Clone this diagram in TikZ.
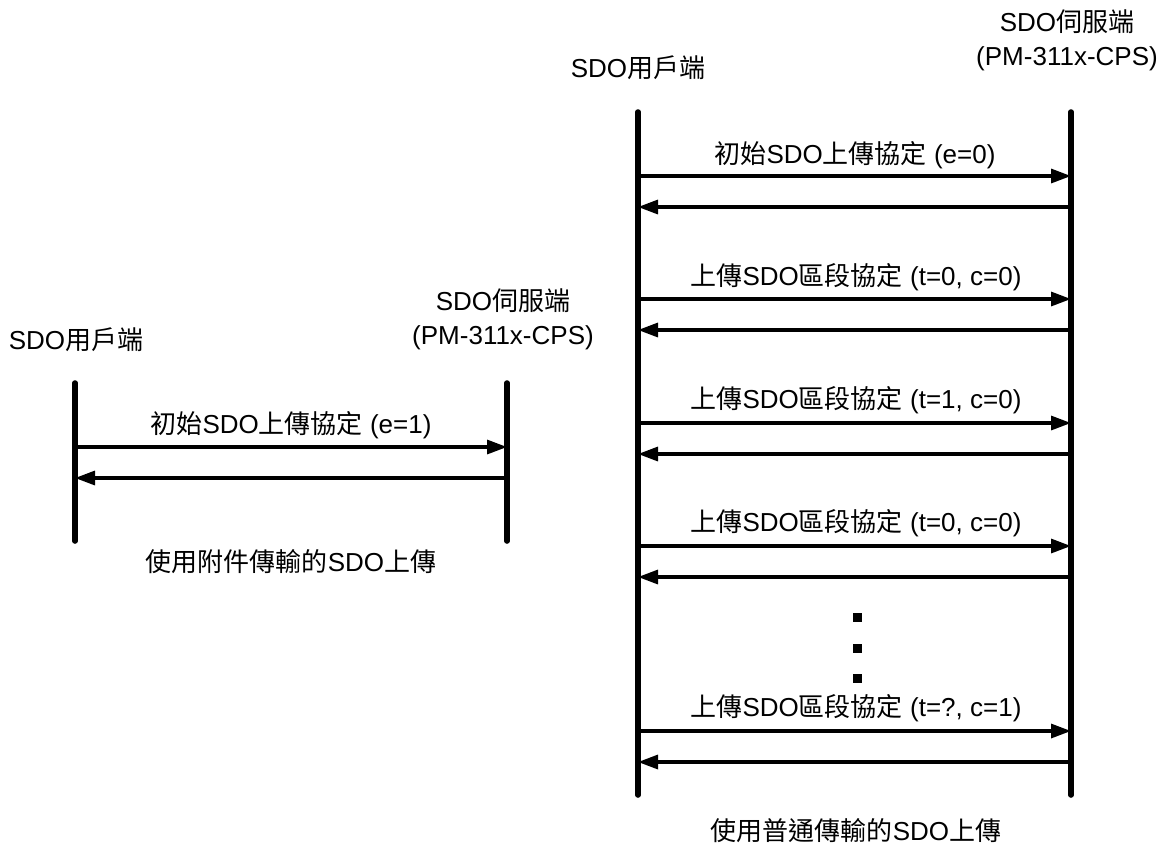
\documentclass[tikz,border=0pt]{standalone}
\usepackage{fontspec}
\setmainfont{Liberation Sans}
\newfontfamily\cjkfont{Noto Sans CJK TC}
\newcommand{\zh}[1]{{\cjkfont #1}}
\usetikzlibrary{arrows.meta}

\begin{document}
\begin{tikzpicture}[x=0.5pt,y=0.5pt,yscale=-1,xscale=1,
  lifeline/.style={line width=2.8pt,line cap=round},
  msg/.style={line width=1.6pt,-{Triangle[length=10pt,width=7pt]}},
  lbl/.style={inner sep=0pt,font=\fontsize{13}{17}\selectfont,align=center},
  dot/.style={fill=black,inner sep=0pt,minimum size=4.5pt}]
\useasboundingbox (0,0) rectangle (1161,848);

%Left: upload with expedited transfer
\coordinate (lc-top) at (75,383);
\coordinate (lc-bot) at (75,541);
\coordinate (ls-top) at (507,383);
\coordinate (ls-bot) at (507,541);
\draw[lifeline] (lc-top) -- (lc-bot);
\draw[lifeline] (ls-top) -- (ls-bot);

\coordinate (lc1) at (75,447);
\coordinate (ls1) at (507,447);
\coordinate (lc2) at (75,478);
\coordinate (ls2) at (507,478);
\draw[msg] (lc1) -- (ls1);
\draw[msg] (ls2) -- (lc2);

% Text Node
\node[lbl] (lclient) at (76,340) {SDO\zh{用戶端}};
% Text Node
\node[lbl] (lserver) at (503,319) {SDO\zh{伺服端}\\(PM-311x-CPS)};
% Text Node
\node[lbl] (lmsg1) at (291,425) {\zh{初始}SDO\zh{上傳協定} (e=1)};
% Text Node
\node[lbl] (lcap) at (291,562) {\zh{使用附件傳輸的}SDO\zh{上傳}};

%Right: upload with segmented transfer
\coordinate (rc-top) at (638,112);
\coordinate (rc-bot) at (638,795);
\coordinate (rs-top) at (1071,112);
\coordinate (rs-bot) at (1071,795);
\draw[lifeline] (rc-top) -- (rc-bot);
\draw[lifeline] (rs-top) -- (rs-bot);

\coordinate (rc1) at (638,176);   \coordinate (rs1) at (1071,176);
\coordinate (rc2) at (638,207);   \coordinate (rs2) at (1071,207);
\coordinate (rc3) at (638,299);   \coordinate (rs3) at (1071,299);
\coordinate (rc4) at (638,330);   \coordinate (rs4) at (1071,330);
\coordinate (rc5) at (638,423);   \coordinate (rs5) at (1071,423);
\coordinate (rc6) at (638,454);   \coordinate (rs6) at (1071,454);
\coordinate (rc7) at (638,546);   \coordinate (rs7) at (1071,546);
\coordinate (rc8) at (638,577);   \coordinate (rs8) at (1071,577);
\coordinate (rc9) at (638,731);   \coordinate (rs9) at (1071,731);
\coordinate (rc10) at (638,762);  \coordinate (rs10) at (1071,762);

\draw[msg] (rc1) -- (rs1);
\draw[msg] (rs2) -- (rc2);
\draw[msg] (rc3) -- (rs3);
\draw[msg] (rs4) -- (rc4);
\draw[msg] (rc5) -- (rs5);
\draw[msg] (rs6) -- (rc6);
\draw[msg] (rc7) -- (rs7);
\draw[msg] (rs8) -- (rc8);
\draw[msg] (rc9) -- (rs9);
\draw[msg] (rs10) -- (rc10);

% Dots
\node[dot] (dot1) at (857,617) {};
\node[dot] (dot2) at (857,648) {};
\node[dot] (dot3) at (857,678) {};

% Text Node
\node[lbl] (rclient) at (638,68) {SDO\zh{用戶端}};
% Text Node
\node[lbl] (rserver) at (1067,40) {SDO\zh{伺服端}\\(PM-311x-CPS)};
% Text Node
\node[lbl] (rmsg1) at (855,155) {\zh{初始}SDO\zh{上傳協定} (e=0)};
% Text Node
\node[lbl] (rmsg2) at (856,277) {\zh{上傳}SDO\zh{區段協定} (t=0, c=0)};
% Text Node
\node[lbl] (rmsg3) at (856,400) {\zh{上傳}SDO\zh{區段協定} (t=1, c=0)};
% Text Node
\node[lbl] (rmsg4) at (856,523) {\zh{上傳}SDO\zh{區段協定} (t=0, c=0)};
% Text Node
\node[lbl] (rmsg5) at (856,708) {\zh{上傳}SDO\zh{區段協定} (t=?, c=1)};
% Text Node
\node[lbl] (rcap) at (856,831) {\zh{使用普通傳輸的}SDO\zh{上傳}};

\end{tikzpicture}
\end{document}
